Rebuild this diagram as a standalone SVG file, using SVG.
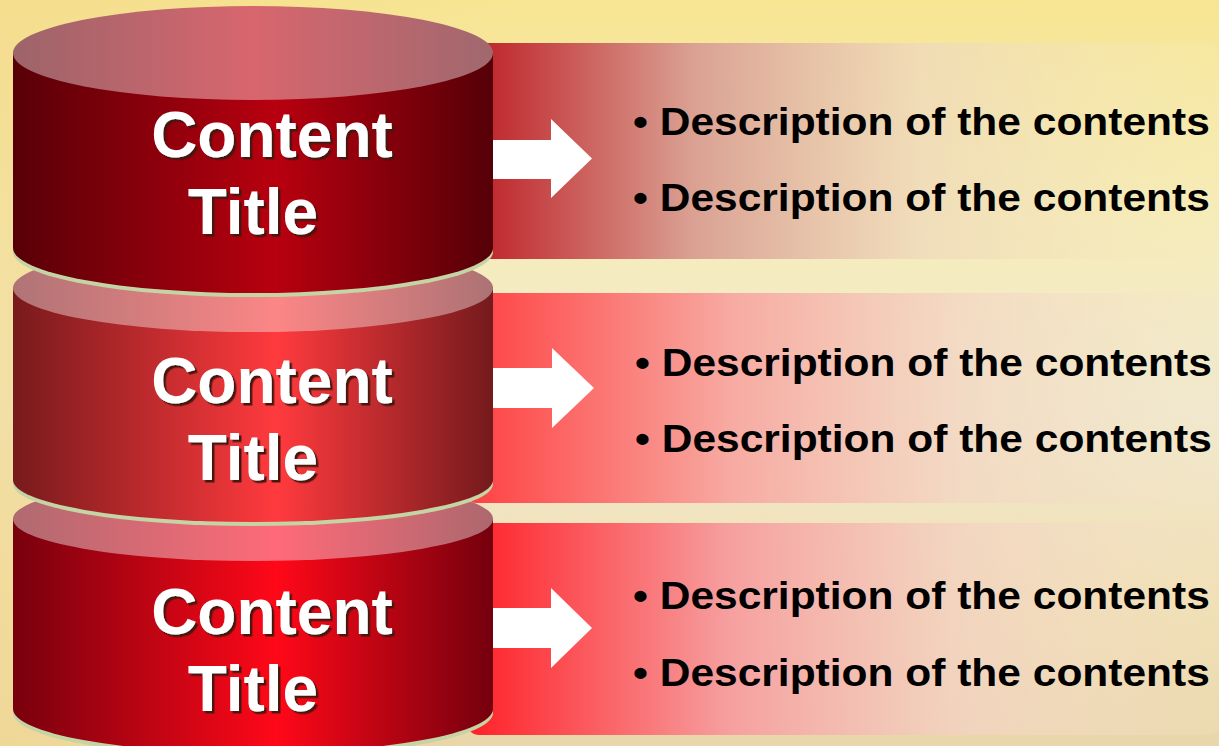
<svg xmlns="http://www.w3.org/2000/svg" width="1219" height="746" viewBox="0 0 1219 746">
<defs>
<linearGradient id="bg" x1="0" y1="0" x2="0" y2="1">
<stop offset="0" stop-color="#f7e592"/>
<stop offset="0.3" stop-color="#f6ecba"/>
<stop offset="0.55" stop-color="#f0e9cf"/>
<stop offset="0.8" stop-color="#f1dfb2"/>
<stop offset="1" stop-color="#e9d6aa"/>
</linearGradient>
<linearGradient id="bgL" x1="0" y1="0" x2="1" y2="0">
<stop offset="0" stop-color="#f3d88a" stop-opacity="0.6"/>
<stop offset="0.4" stop-color="#f3d88a" stop-opacity="0"/>
</linearGradient>
<linearGradient id="band1" x1="0" y1="0" x2="1" y2="0">
<stop offset="0" stop-color="#bd1d24"/>
<stop offset="0.3" stop-color="#daa193"/>
<stop offset="0.6" stop-color="#efd9bb" stop-opacity="0.8"/>
<stop offset="1" stop-color="#f6ecb8" stop-opacity="0.2"/>
</linearGradient>
<linearGradient id="band2" x1="0" y1="0" x2="1" y2="0">
<stop offset="0" stop-color="#ff4042"/>
<stop offset="0.35" stop-color="#f7aaa2"/>
<stop offset="0.65" stop-color="#f3d6c3" stop-opacity="0.8"/>
<stop offset="1" stop-color="#f3e6c8" stop-opacity="0.2"/>
</linearGradient>
<linearGradient id="band3" x1="0" y1="0" x2="1" y2="0">
<stop offset="0" stop-color="#ff2028"/>
<stop offset="0.35" stop-color="#f6a0a0"/>
<stop offset="0.65" stop-color="#f3d2c2" stop-opacity="0.8"/>
<stop offset="1" stop-color="#f3e4c8" stop-opacity="0.2"/>
</linearGradient>
<linearGradient id="body1" x1="0" y1="0" x2="1" y2="0">
<stop offset="0" stop-color="#580007"/>
<stop offset="0.55" stop-color="#b8000f"/>
<stop offset="1" stop-color="#540007"/>
</linearGradient>
<linearGradient id="top1" x1="0" y1="0" x2="1" y2="0">
<stop offset="0" stop-color="#9c646a"/>
<stop offset="0.5" stop-color="#d8666e"/>
<stop offset="1" stop-color="#a0686e"/>
</linearGradient>
<linearGradient id="body2" x1="0" y1="0" x2="1" y2="0">
<stop offset="0" stop-color="#781a1c"/>
<stop offset="0.55" stop-color="#ff3a3e"/>
<stop offset="1" stop-color="#741a1c"/>
</linearGradient>
<linearGradient id="top2" x1="0" y1="0" x2="1" y2="0">
<stop offset="0" stop-color="#b07476"/>
<stop offset="0.55" stop-color="#fc8686"/>
<stop offset="1" stop-color="#ac7274"/>
</linearGradient>
<linearGradient id="body3" x1="0" y1="0" x2="1" y2="0">
<stop offset="0" stop-color="#78000e"/>
<stop offset="0.55" stop-color="#ff0818"/>
<stop offset="1" stop-color="#74000e"/>
</linearGradient>
<linearGradient id="top3" x1="0" y1="0" x2="1" y2="0">
<stop offset="0" stop-color="#b06a70"/>
<stop offset="0.55" stop-color="#ff6a78"/>
<stop offset="1" stop-color="#ac686e"/>
</linearGradient>
<filter id="sh" x="-10%" y="-10%" width="130%" height="130%">
<feDropShadow dx="2.5" dy="2.5" stdDeviation="0.4" flood-color="#4a1408" flood-opacity="1"/>
</filter>
</defs>
<style>
.title{font-family:"Liberation Sans",Arial,sans-serif;font-weight:bold;font-size:64px;fill:#ffffff;text-anchor:middle}
.desc{font-family:"Liberation Sans",Arial,sans-serif;font-weight:bold;font-size:39px;fill:#000000}
.rim{fill:#c4d4a4}
.arrow{fill:#ffffff}
</style>
<rect width="1219" height="746" fill="url(#bg)"/>
<rect width="1219" height="746" fill="url(#bgL)"/>

<g id="bands">
<rect x="468" y="43" width="751" height="216" rx="8" fill="url(#band1)"/>
<rect x="468" y="293" width="751" height="210" rx="8" fill="url(#band2)"/>
<rect x="468" y="523" width="751" height="212" rx="10" fill="url(#band3)"/>
</g>

<g id="connectors">
<path class="arrow" d="M480 140 L551 140 L551 119 L592 158.5 L551 198 L551 179 L480 179 Z"/>
<path class="arrow" d="M480 368 L552 368 L552 348 L594 388 L552 428 L552 408 L480 408 Z"/>
<path class="arrow" d="M480 608 L551 608 L551 588 L592 628 L551 668 L551 648 L480 648 Z"/>
</g>

<g id="cyl3">
<ellipse class="rim" cx="253" cy="713" rx="240" ry="44"/>
<path d="M13 519 L13 709 A240 44 0 0 0 493 709 L493 519 Z" fill="url(#body3)"/>
<ellipse cx="253" cy="519" rx="240" ry="42" fill="url(#top3)"/>
<text class="title" filter="url(#sh)"><tspan x="272" y="634">Content</tspan><tspan x="253" y="711">Title</tspan></text>
</g>

<g id="cyl2">
<ellipse class="rim" cx="253" cy="484" rx="240" ry="42"/>
<path d="M13 287 L13 480 A240 42 0 0 0 493 480 L493 287 Z" fill="url(#body2)"/>
<ellipse cx="253" cy="288" rx="240" ry="44" fill="url(#top2)"/>
<text class="title" filter="url(#sh)"><tspan x="272" y="403">Content</tspan><tspan x="253" y="480">Title</tspan></text>
</g>

<g id="cyl1">
<ellipse class="rim" cx="253" cy="252" rx="240" ry="45"/>
<path d="M13 53 L13 248 A240 45 0 0 0 493 248 L493 53 Z" fill="url(#body1)"/>
<ellipse cx="253" cy="53" rx="240" ry="47" fill="url(#top1)"/>
<text class="title" filter="url(#sh)"><tspan x="272" y="157">Content</tspan><tspan x="253" y="234">Title</tspan></text>
</g>

<g id="desc1">
<text class="desc" transform="translate(633 135) scale(1.09 1)">• Description of the contents</text>
<text class="desc" transform="translate(633 211) scale(1.09 1)">• Description of the contents</text>
</g>
<g id="desc2">
<text class="desc" transform="translate(635 376) scale(1.09 1)">• Description of the contents</text>
<text class="desc" transform="translate(635 452) scale(1.09 1)">• Description of the contents</text>
</g>
<g id="desc3">
<text class="desc" transform="translate(633 609) scale(1.09 1)">• Description of the contents</text>
<text class="desc" transform="translate(633 686) scale(1.09 1)">• Description of the contents</text>
</g>
</svg>
